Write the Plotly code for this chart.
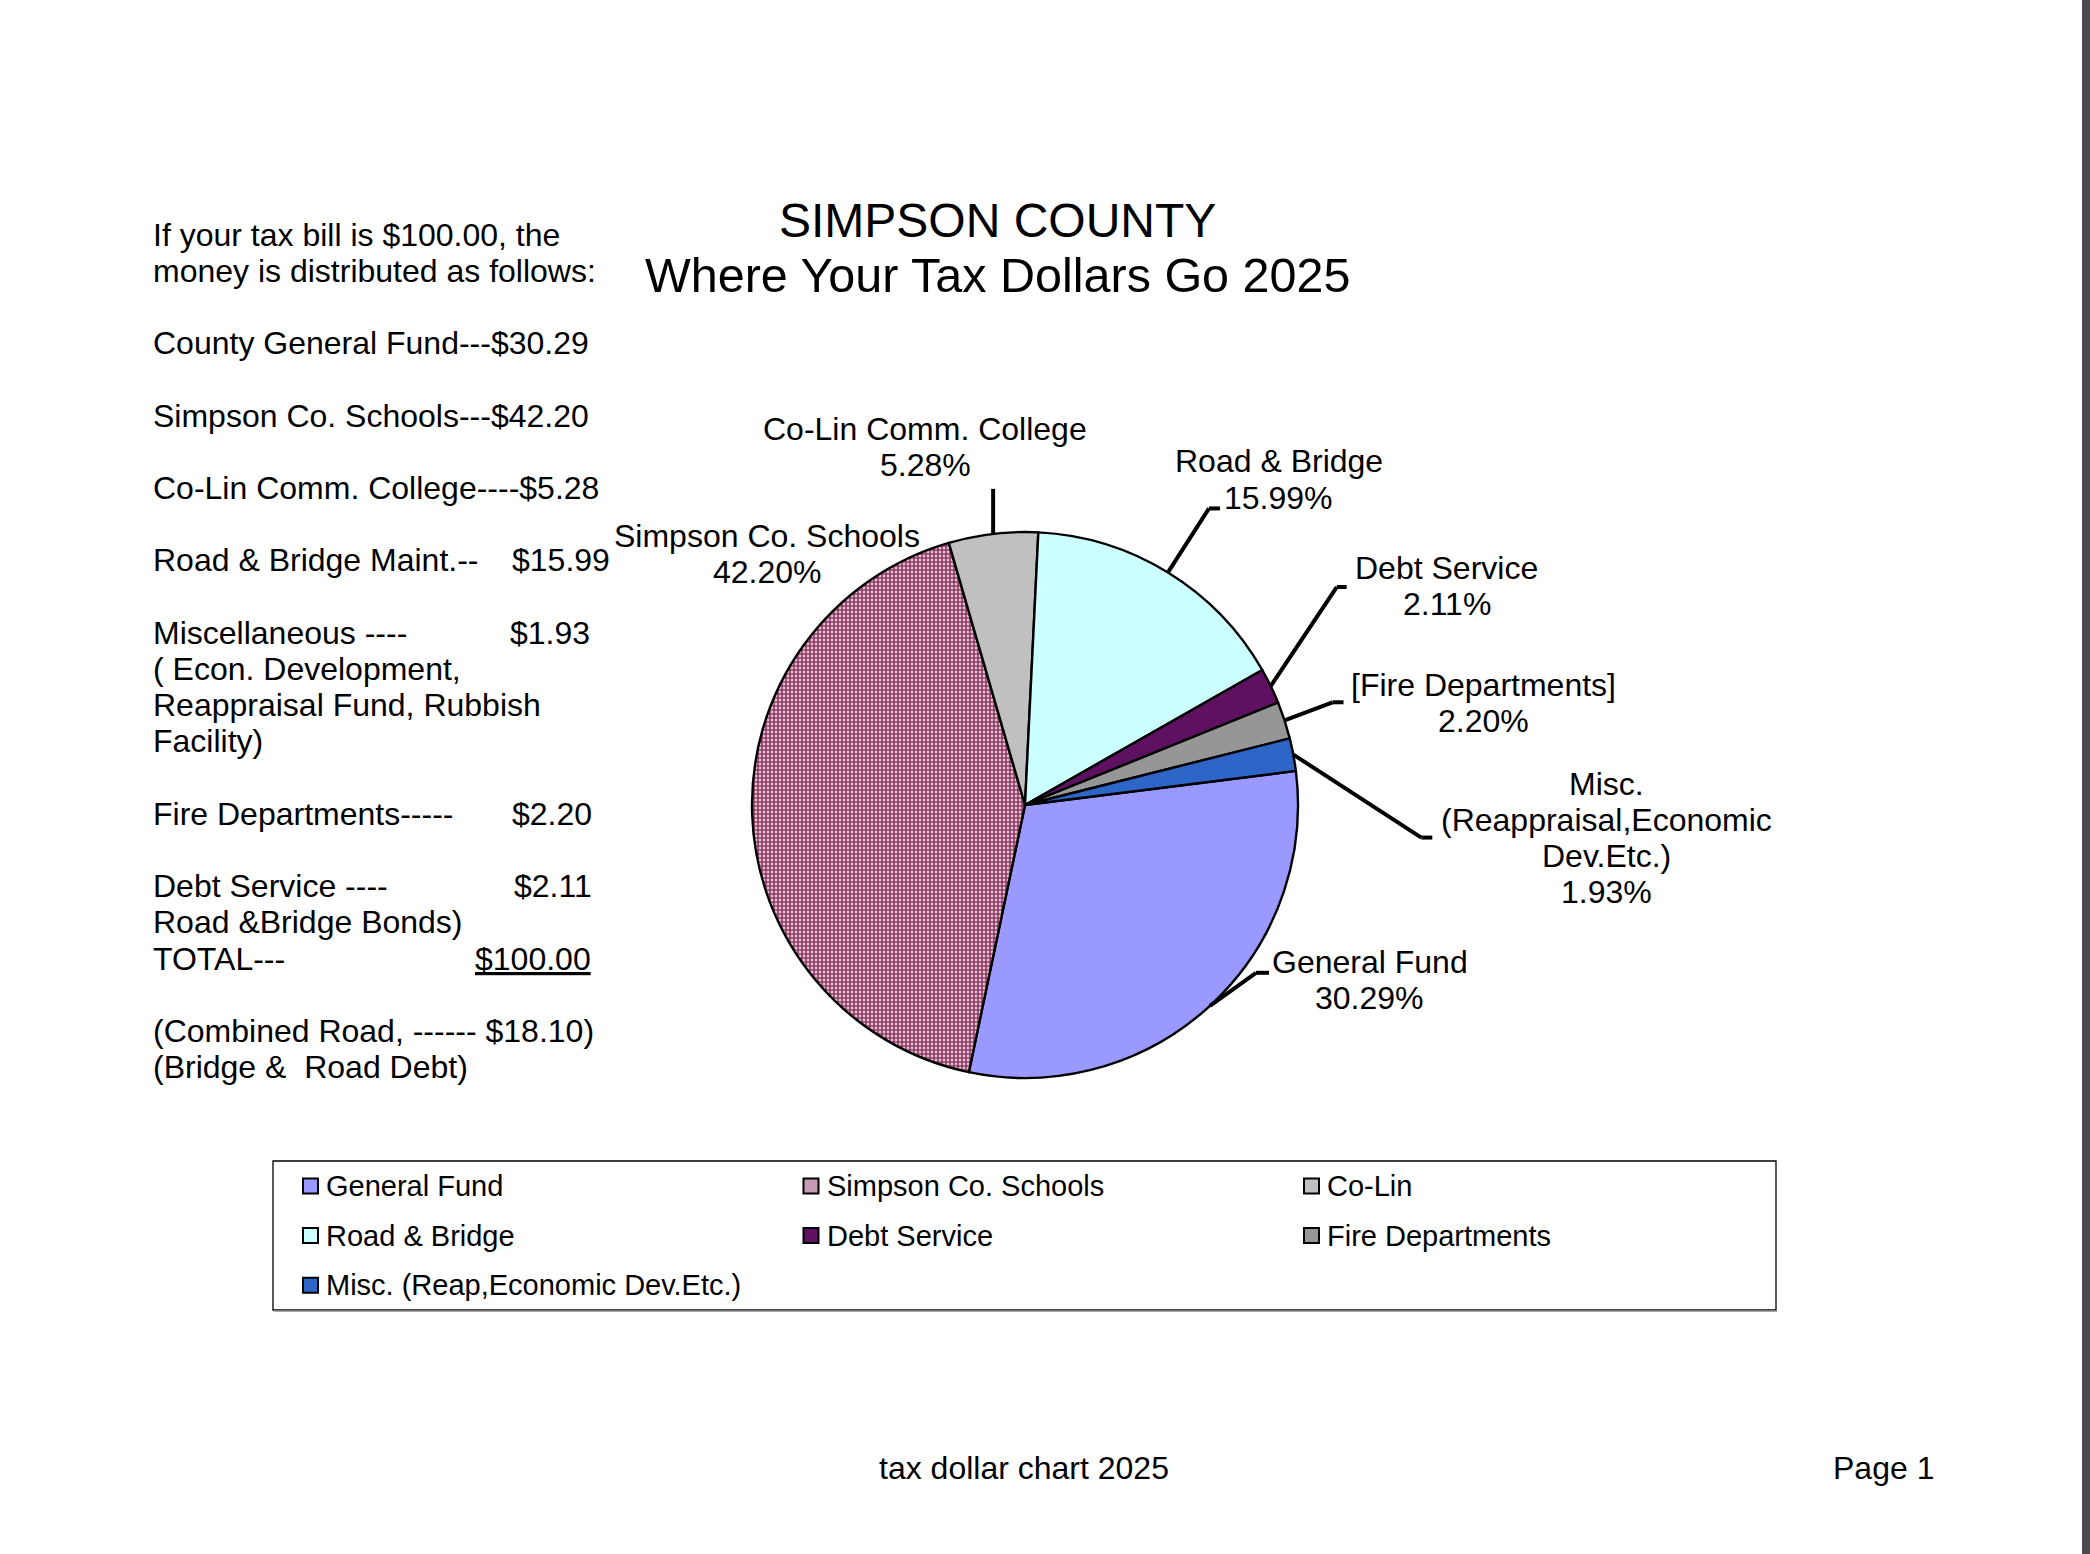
import math
import plotly.graph_objects as go

W, H = 2090, 1554
FONT = "Liberation Sans, Arial, sans-serif"

# ---------------- data ----------------
categories = ["General Fund", "Simpson Co. Schools", "Co-Lin", "Road & Bridge",
              "Debt Service", "Fire Departments", "Misc. (Reap,Economic Dev.Etc.)"]
values = [30.29, 42.20, 5.28, 15.99, 2.11, 2.20, 1.93]
slice_labels = ["General Fund", "Simpson Co. Schools", "Co-Lin Comm. College",
                "Road & Bridge", "Debt Service", "[Fire Departments]",
                "Misc.\n(Reappraisal,Economic\nDev.Etc.)"]
colors = ["#9999FF", "#903A65", "#C0C0C0", "#CCFFFF", "#5E1160", "#969696", "#2E66C8"]
patterns = ["", ".", "", "", "", "", ""]

left_lines = [
    (0, "If your tax bill is $100.00, the", None),
    (1, "money is distributed as follows:", None),
    (3, "County General Fund---", "inline0"),
    (5, "Simpson Co. Schools---", "inline1"),
    (7, "Co-Lin Comm. College----", "inline2"),
    (9, "Road & Bridge Maint.--", "tab3"),
    (11, "Miscellaneous ----", "tab6"),
    (12, "( Econ. Development,", None),
    (13, "Reappraisal Fund, Rubbish", None),
    (14, "Facility)", None),
    (16, "Fire Departments-----", "tab5"),
    (18, "Debt Service ----", "tab4"),
    (19, "Road &Bridge Bonds)", None),
    (20, "TOTAL---", "total"),
    (22, "(Combined Road, ------ ", "combined"),
    (23, "(Bridge &\u00a0\u00a0Road Debt)", None),
]

# ---------------- layout parameters (pixels) ----------------
CX, CY, R = 1025, 805, 273
BOUNDARY_ANGLE = 2.8          # Co-Lin / Road & Bridge boundary, deg clockwise from 12
total = sum(values)
rotation = BOUNDARY_ANGLE + sum(values[3:]) / total * 360.0

# leader line offsets from the slice edge point: (elbow dx, dy, end dx)
leader = {
    0: (46, -33, 59),
    2: (0, -45, 0),
    3: (41, -64, 52),
    4: (66, -99, 76),
    5: (48, -18, 59),
    6: (128, 83, 139),
}
# label first-line centre, offset from leader end
label_off = {
    0: (101, -11),
    2: (-68, -60),
    3: (59, -47),
    4: (100, -19),
    5: (140, -17),
    6: (174, -54),
}
SCHOOLS_LABEL = (767, 536)
LINE_STEP = 36.2


def px(x):
    return x / W


def py(y):
    return 1 - y / H


def blend_white(hexcol, f=0.5):
    r, g, b = (int(hexcol[i:i + 2], 16) for i in (1, 3, 5))
    return "#%02X%02X%02X" % tuple(int(c * f + 255 * (1 - f)) for c in (r, g, b))


fig = go.Figure()
fig.add_trace(go.Pie(
    labels=categories,
    values=values,
    sort=False,
    direction="clockwise",
    rotation=rotation,
    textinfo="none",
    hoverinfo="label+percent",
    showlegend=False,
    marker=dict(colors=colors,
                line=dict(color="#000000", width=2.4),
                pattern=dict(shape=patterns, fgcolor=colors,
                             bgcolor=["#FFFFFF"] * len(values),
                             size=4, solidity=0.75, fillmode="replace")),
    domain=dict(x=[px(CX - R), px(CX + R)], y=[py(CY + R), py(CY - R)]),
))

annotations = []
shapes = []


def txt(x, y, text, size=32, xanchor="center"):
    annotations.append(dict(
        x=px(x), y=py(y), xref="paper", yref="paper", text=text,
        showarrow=False, xanchor=xanchor, yanchor="middle",
        font=dict(family=FONT, size=size, color="#000000")))


def seg(x0, y0, x1, y1, w=4, color="#000000"):
    shapes.append(dict(type="line", xref="paper", yref="paper",
                       x0=px(x0), y0=py(y0), x1=px(x1), y1=py(y1),
                       line=dict(color=color, width=w)))


# slice labels with leader lines
cum = 0.0
for i, v in enumerate(values):
    mid = rotation + (cum + v / 2) / total * 360.0
    cum += v
    a = math.radians(mid)
    ex, ey = CX + R * math.sin(a), CY - R * math.cos(a)
    pct = f"{v / total * 100:.2f}%"
    lines = slice_labels[i].split("\n") + [pct]
    if i in leader:
        dx, dy, dx2 = leader[i]
        seg(ex, ey, ex + dx, ey + dy)
        if dx2 != dx:
            seg(ex + dx, ey + dy, ex + dx2, ey + dy)
        ox, oy = label_off[i]
        lx, ly = ex + dx2 + ox, ey + dy + oy
    else:
        lx, ly = SCHOOLS_LABEL
    for k, t in enumerate(lines):
        txt(lx, ly + k * LINE_STEP, t)

# title
txt(997, 220, "SIMPSON COUNTY", size=48)
txt(997, 275, "Where Your Tax Dollars Go 2025", size=48.5)

# left text block
LX, LY0 = 151, 234.6
TAB = {"tab3": 510, "tab6": 507.5, "tab5": 510, "tab4": 511.6, "total": 473}
for idx, t, extra in left_lines:
    y = LY0 + idx * LINE_STEP
    if extra is None:
        txt(LX, y, t, xanchor="left")
    elif extra.startswith("inline"):
        j = int(extra[6:])
        txt(LX, y, f"{t}${values[j]:.2f}", xanchor="left")
    elif extra.startswith("tab"):
        j = int(extra[3:])
        txt(LX, y, t, xanchor="left")
        txt(TAB[extra], y, f"${values[j]:.2f}", xanchor="left")
    elif extra == "total":
        txt(LX, y, t, xanchor="left")
        txt(TAB[extra], y, f"<u>${total:.2f}</u>", xanchor="left")
    elif extra == "combined":
        txt(LX, y, f"{t}${values[3] + values[4]:.2f})", xanchor="left")

# legend (drawn manually: 3 columns)
LEG_BOX = (273, 1161, 1776, 1310)
LEG_X0, LEG_Y0, COL_W, ROW_H, SQ = 303, 1186, 500.5, 49.6, 15
shapes.append(dict(type="rect", xref="paper", yref="paper",
                   x0=px(LEG_BOX[0]), x1=px(LEG_BOX[2]),
                   y0=py(LEG_BOX[3]), y1=py(LEG_BOX[1]),
                   fillcolor="#FFFFFF", line=dict(color="#000000", width=1.3), layer="below"))
seg(LEG_BOX[0] + 1, LEG_BOX[3] + 1, LEG_BOX[2] + 1, LEG_BOX[3] + 1, w=1.5, color="#8A8A8A")
for i, name in enumerate(categories):
    c, r = i % 3, i // 3
    sx = LEG_X0 + c * COL_W
    sy = LEG_Y0 + r * ROW_H
    fill = blend_white(colors[i], 0.5) if patterns[i] else colors[i]
    shapes.append(dict(type="rect", xref="paper", yref="paper",
                       x0=px(sx), x1=px(sx + SQ), y0=py(sy + SQ / 2), y1=py(sy - SQ / 2),
                       fillcolor=fill, line=dict(color="#000000", width=2)))
    txt(sx + SQ + 6, sy, name, size=29, xanchor="left")

# footer
txt(1024, 1468, "tax dollar chart 2025")
txt(1936, 1468, "Page 1", xanchor="right")

# right edge dark strip
shapes.append(dict(type="rect", xref="paper", yref="paper",
                   x0=px(2082), x1=1, y0=0, y1=1,
                   fillcolor="#4A4A4F", line=dict(width=0), layer="above"))

fig.update_layout(
    width=W, height=H,
    margin=dict(l=0, r=0, t=0, b=0),
    paper_bgcolor="#FFFFFF",
    plot_bgcolor="#FFFFFF",
    showlegend=False,
    annotations=annotations,
    shapes=shapes,
)

fig.write_html("out.html")
